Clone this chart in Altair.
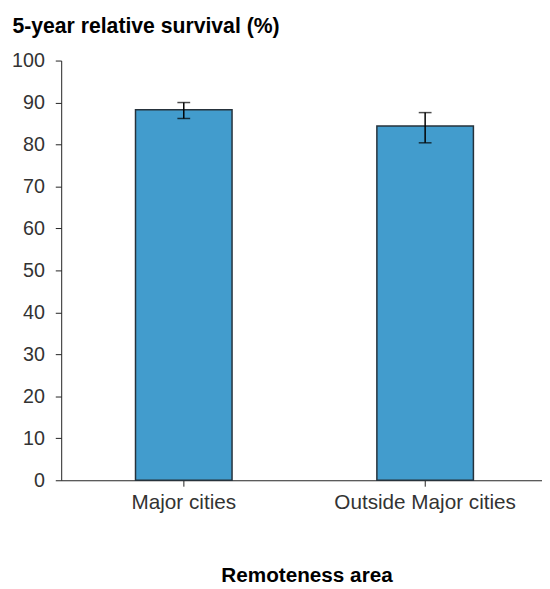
import altair as alt
import pandas as pd

categories = ["Major cities", "Outside Major cities"]
values = [88.3, 84.4]
lower = [86.2, 80.4]
upper = [90.0, 87.6]
y_ticks = [0, 10, 20, 30, 40, 50, 60, 70, 80, 90, 100]

df = pd.DataFrame({"area": categories, "value": values, "lo": lower, "hi": upper})

FONT = "Liberation Sans"

x_enc = alt.X(
    "area:N",
    sort=categories,
    scale=alt.Scale(paddingInner=0.6, paddingOuter=0.296, align=0.52),
    axis=alt.Axis(
        title="Remoteness area",
        labelAngle=0,
        labelLimit=0,
        labelFont=FONT,
        labelFontSize=21,
        labelColor="#333333",
        labelPadding=6,
        tickSize=6,
        tickColor="#222222",
        domainColor="#222222",
        titleFont=FONT,
        titleFontSize=21,
        titleFontWeight="bold",
        titleColor="#000000",
        titleX=249,
        titleY=103,
        titleBaseline="alphabetic",
    ),
)

y_scale = alt.Scale(domain=[0, 100], nice=False)

bars = alt.Chart(df).mark_bar(
    color="#429ccd", stroke="#26323b", strokeWidth=1.5
).encode(
    x=x_enc,
    y=alt.Y(
        "value:Q",
        scale=y_scale,
        axis=alt.Axis(
            values=y_ticks,
            grid=False,
            title="5-year relative survival (%)",
            titleAngle=0,
            titleAlign="left",
            titleBaseline="alphabetic",
            titleX=-50,
            titleY=-28,
            titleFont=FONT,
            titleFontSize=21.5,
            titleFontWeight="bold",
            titleColor="#000000",
            labelFont=FONT,
            labelFontSize=20,
            labelColor="#333333",
            labelPadding=11,
            tickSize=6,
            tickColor="#222222",
            domainColor="#222222",
        ),
    ),
)

rule = alt.Chart(df).mark_rule(color="#000000", strokeWidth=1.5).encode(
    x=alt.X("area:N", sort=categories),
    y=alt.Y("lo:Q", scale=y_scale),
    y2="hi:Q",
)

cap_lo = alt.Chart(df).mark_tick(color="#000000", thickness=1.5, size=13, orient="horizontal").encode(
    x=alt.X("area:N", sort=categories),
    y=alt.Y("lo:Q", scale=y_scale),
)
cap_hi = alt.Chart(df).mark_tick(color="#000000", thickness=1.5, size=13, orient="horizontal").encode(
    x=alt.X("area:N", sort=categories),
    y=alt.Y("hi:Q", scale=y_scale),
)

chart = (
    alt.layer(bars, rule, cap_lo, cap_hi)
    .properties(
        width=488,
        height=426,
        autosize=alt.AutoSizeParams(type="none"),
        padding={"left": 54, "top": 49, "right": 0, "bottom": 105},
    )
    .configure_view(stroke=None)
)

chart.save("out.html", embed_options={"renderer": "svg", "actions": False})
